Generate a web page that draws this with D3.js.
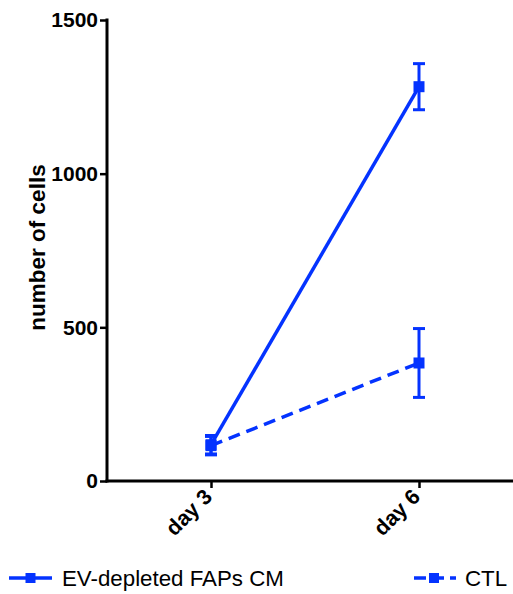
<!DOCTYPE html>
<html>
<head>
<meta charset="utf-8">
<script src="https://cdn.jsdelivr.net/npm/d3@7"></script>
<style>
  body { margin: 0; background: #fff; }
</style>
</head>
<body>
<div id="myChart"></div>
<script>
// data
const days = ["day 3", "day 6"];
const seriesNames = ["EV-depleted FAPs CM", "CTL"];
const evMean = [118, 1283];
const evErr = [30, 75];
const ctlMean = [115, 384];
const ctlErr = [30, 112];
const yTicks = [0, 500, 1000, 1500];

const blue = "#0433ff";
const font = "'Liberation Sans', Arial, sans-serif";

const margin = {top: 20, right: 0, bottom: 113, left: 107},
    width = 513 - margin.left - margin.right,
    height = 594 - margin.top - margin.bottom;

const svg = d3.select("#myChart")
  .append("svg")
    .attr("width", 513)
    .attr("height", 594)
  .append("g")
    .attr("transform", `translate(${margin.left}, ${margin.top})`);

const series = [
  {name: seriesNames[0], mean: evMean, err: evErr, dash: null, legendDash: null, lx: [9, 52], sq: 30.5, tx: 62},
  {name: seriesNames[1], mean: ctlMean, err: ctlErr, dash: "12,7", legendDash: "12,6", lx: [414, 456], sq: 434, tx: 465}
];

// X axis
const x = d3.scalePoint()
  .domain(days)
  .range([104, 312]);

// Y axis
const y = d3.scaleLinear()
  .domain([0, 1500])
  .range([height, 0]);

const yAxis = svg.append("g")
  .call(d3.axisLeft(y).tickValues(yTicks).tickFormat(d3.format("d"))
    .tickSize(7).tickSizeOuter(0).tickPadding(2));
yAxis.select(".domain").attr("stroke-width", 3).attr("d", `M0,${height + 1.5}V-1.5`);
yAxis.selectAll(".tick line").attr("stroke-width", 2.5);
yAxis.selectAll("text")
  .style("font-family", font)
  .style("font-size", "21px")
  .style("font-weight", "bold")
  .attr("fill", "#000");

const xAxis = svg.append("g")
  .attr("transform", `translate(0, ${height})`)
  .call(d3.axisBottom(x).tickSize(7).tickSizeOuter(0));
xAxis.select(".domain").attr("stroke-width", 3).attr("d", `M-1.5,0H${width}`);
xAxis.selectAll(".tick line").attr("stroke-width", 2.5);
xAxis.selectAll("text")
  .style("font-family", font)
  .style("font-size", "21.5px")
  .style("font-weight", "bold")
  .attr("fill", "#000")
  .attr("text-anchor", "end")
  .attr("y", 0)
  .attr("dy", 0)
  .attr("transform", "translate(2, 17) rotate(-45)");

// Y axis label
svg.append("text")
  .attr("transform", "rotate(-90)")
  .attr("x", -227.5)
  .attr("y", -62)
  .attr("text-anchor", "middle")
  .style("font-family", font)
  .style("font-size", "22.5px")
  .style("font-weight", "bold")
  .text("number of cells");

// lines
const line = d3.line()
  .x((d, i) => x(days[i]))
  .y(d => y(d));

series.forEach(s => {
  const g = svg.append("g");
  g.append("path")
    .datum(s.mean)
    .attr("fill", "none")
    .attr("stroke", blue)
    .attr("stroke-width", 3.5)
    .attr("stroke-dasharray", s.dash)
    .attr("d", line);

  // error bars
  s.mean.forEach((m, i) => {
    const cx = x(days[i]);
    g.append("line")
      .attr("x1", cx).attr("x2", cx)
      .attr("y1", y(m - s.err[i])).attr("y2", y(m + s.err[i]))
      .attr("stroke", blue).attr("stroke-width", 3);
    [m - s.err[i], m + s.err[i]].forEach(v => {
      g.append("line")
        .attr("x1", cx - 6).attr("x2", cx + 6)
        .attr("y1", y(v)).attr("y2", y(v))
        .attr("stroke", blue).attr("stroke-width", 3);
    });
    g.append("rect")
      .attr("x", cx - 5.5).attr("y", y(m) - 5.5)
      .attr("width", 11).attr("height", 11)
      .attr("fill", blue);
  });
});

// legend
const legend = d3.select("svg").append("g");
series.forEach(s => {
  const ly = 578;
  legend.append("line")
    .attr("x1", s.lx[0]).attr("x2", s.lx[1])
    .attr("y1", ly).attr("y2", ly)
    .attr("stroke", blue).attr("stroke-width", 3.3)
    .attr("stroke-dasharray", s.legendDash);
  legend.append("rect")
    .attr("x", s.sq - 5).attr("y", ly - 5)
    .attr("width", 10).attr("height", 10)
    .attr("fill", blue);
  legend.append("text")
    .attr("x", s.tx)
    .attr("y", ly)
    .attr("dy", "0.36em")
    .style("font-family", font)
    .style("font-size", "22.3px")
    .text(s.name);
});
</script>
</body>
</html>
